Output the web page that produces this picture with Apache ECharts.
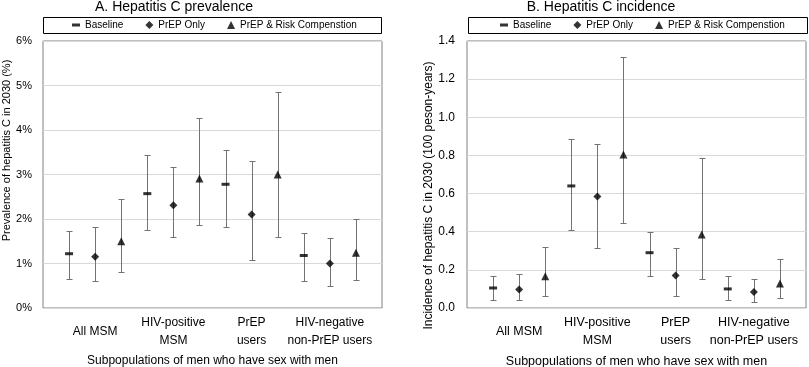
<!DOCTYPE html>
<html><head><meta charset="utf-8">
<script src="https://cdn.jsdelivr.net/npm/echarts@6/dist/echarts.min.js"></script>
<style>html,body{margin:0;padding:0;background:#fff}#c{width:809px;height:367px}</style>
</head><body><div id="c"></div>
<script>
// ---- data ----
const groups = ['All MSM', 'HIV-positive\nMSM', 'PrEP\nusers', 'HIV-negative\nnon-PrEP users'];
const seriesNames = ['Baseline', 'PrEP Only', 'PrEP & Risk Compenstion'];

// Panel A: prevalence (%)
const prevBaseline   = [1.22, 2.57, 2.78, 1.18];
const prevBaselineLo = [0.66, 1.76, 1.81, 0.60];
const prevBaselineHi = [1.72, 3.43, 3.54, 1.69];
const prevPrepOnly   = [1.15, 2.31, 2.10, 1.00];
const prevPrepOnlyLo = [0.60, 1.60, 1.08, 0.49];
const prevPrepOnlyHi = [1.82, 3.17, 3.31, 1.57];
const prevRisk       = [1.50, 2.91, 3.00, 1.24];
const prevRiskLo     = [0.80, 1.87, 1.60, 0.62];
const prevRiskHi     = [2.44, 4.28, 4.86, 2.01];
const prevTicks = ['0%', '1%', '2%', '3%', '4%', '5%', '6%'];

// Panel B: incidence (per 100 person-years)
const incBaseline   = [0.105, 0.64, 0.29, 0.10];
const incBaselineLo = [0.04, 0.41, 0.17, 0.04];
const incBaselineHi = [0.17, 0.886, 0.397, 0.17];
const incPrepOnly   = [0.097, 0.585, 0.17, 0.084];
const incPrepOnlyLo = [0.04, 0.317, 0.065, 0.03];
const incPrepOnlyHi = [0.177, 0.861, 0.317, 0.154];
const incRisk       = [0.166, 0.805, 0.385, 0.128];
const incRiskLo     = [0.065, 0.448, 0.154, 0.055];
const incRiskHi     = [0.32, 1.314, 0.786, 0.257];
const incTicks = ['0.0', '0.2', '0.4', '0.6', '0.8', '1.0', '1.2', '1.4'];

// ---- chart ----
const FONT = "'Liberation Sans', Arial, sans-serif";
const chart = echarts.init(document.getElementById('c'), null, {renderer: 'canvas'});

const panels = [
  {vals: [prevBaseline, prevPrepOnly, prevRisk], lo: [prevBaselineLo, prevPrepOnlyLo, prevRiskLo],
   hi: [prevBaselineHi, prevPrepOnlyHi, prevRiskHi], ticks: prevTicks},
  {vals: [incBaseline, incPrepOnly, incRisk], lo: [incBaselineLo, incPrepOnlyLo, incRiskLo],
   hi: [incBaselineHi, incPrepOnlyHi, incRiskHi], ticks: incTicks}
];
const pos = (g, s) => g * 3 + s + 1;
const labelPos = groups.map((_, g) => g * 3 + 2);
const symbols = [['rect', [8, 3]], ['diamond', [8, 8]], ['triangle', [8, 8]]];
const legendIcons = ['path://M0,0M8,8M0,2.5H8V5.5H0Z', 'diamond', 'triangle'];

function errRender(params, api) {
  const x = api.value(0), lo = api.value(1), hi = api.value(2);
  const a = api.coord([x, lo]), b = api.coord([x, hi]);
  const cx = Math.round(a[0]) + 0.5, y1 = Math.round(a[1]) + 0.5, y2 = Math.round(b[1]) + 0.5;
  const st = {stroke: '#737373', lineWidth: 1};
  return {type: 'group', children: [
    {type: 'line', shape: {x1: cx, y1: y1, x2: cx, y2: y2}, style: st},
    {type: 'line', shape: {x1: cx - 3, y1: y1, x2: cx + 3, y2: y1}, style: st},
    {type: 'line', shape: {x1: cx - 3, y1: y2, x2: cx + 3, y2: y2}, style: st}
  ]};
}

const series = [];
panels.forEach((p, pi) => {
  const errData = [];
  for (let s = 0; s < 3; s++) for (let g = 0; g < groups.length; g++) errData.push([pos(g, s), p.lo[s][g], p.hi[s][g]]);
  series.push({type: 'custom', name: 'err' + pi, xAxisIndex: pi, yAxisIndex: pi, z: 1,
    renderItem: errRender, encode: {x: 0, y: [1, 2]}, data: errData, silent: true});
  for (let s = 0; s < 3; s++) {
    series.push({type: 'scatter', name: seriesNames[s], xAxisIndex: pi, yAxisIndex: pi, z: 3,
      symbol: symbols[s][0], symbolSize: symbols[s][1], itemStyle: {color: '#000'},
      data: p.vals[s].map((v, g) => [pos(g, s), v])});
  }
});

const grids = [
  {left: 43, top: 41, width: 339, height: 267},
  {left: 467, top: 41, width: 339, height: 267}
];
const names = ['Prevalence of hepatitis C in 2030 (%)', 'Incidence of hepatitis C in 2030 (100 peson-years)'];

const xAxes = grids.map((gr, i) => ({
  type: 'value', gridIndex: i, min: 0, max: groups.length * 3 + 1,
  axisLine: {show: false}, axisTick: {show: false}, splitLine: {show: false},
  name: 'Subpopulations of men who have sex with men', nameLocation: 'middle', nameGap: 45,
  nameTextStyle: {fontFamily: FONT, fontSize: i ? 12.5 : 12, color: '#000'},
  axisLabel: {customValues: labelPos, margin: 6, fontFamily: FONT, fontSize: i ? 12.5 : 12, color: '#000', lineHeight: 18,
    formatter: v => { const t = groups[labelPos.indexOf(v)] || ''; return t.indexOf('\n') < 0 ? '{one|' + t + '}' : t; },
    rich: {one: {fontFamily: FONT, fontSize: i ? 12.5 : 12, color: '#000', lineHeight: 36}}}
}));
const yAxes = [
  {type: 'value', gridIndex: 0, min: 0, max: 6, interval: 1,
   axisLine: {show: false}, axisTick: {show: false},
   splitLine: {lineStyle: {color: '#d9d9d9'}},
   axisLabel: {margin: 11, fontFamily: FONT, fontSize: 11, color: '#000', formatter: v => prevTicks[Math.round(v)]},
   name: names[0], nameLocation: 'middle', nameGap: 26,
   nameTextStyle: {fontFamily: FONT, fontSize: 11, color: '#000', padding: [0, 0, 0, 48]}},
  {type: 'value', gridIndex: 1, min: 0, max: 1.4, interval: 0.2,
   axisLine: {show: false}, axisTick: {show: false},
   splitLine: {lineStyle: {color: '#d9d9d9'}},
   axisLabel: {margin: 12, fontFamily: FONT, fontSize: 12, color: '#000', formatter: v => incTicks[Math.round(v / 0.2)]},
   name: names[1], nameLocation: 'middle', nameGap: 31,
   nameTextStyle: {fontFamily: FONT, fontSize: 12, color: '#000', padding: [0, 42, 0, 0]}}
];

const legendData = seriesNames.map((n, i) => ({name: n, icon: legendIcons[i]}));
const legendBase = {top: 20, itemGap: 22, itemWidth: 8, itemHeight: 8, padding: 0, selectedMode: false,
  textStyle: {fontFamily: FONT, fontSize: 10, color: '#000'}, data: legendData};

chart.setOption({
  animation: false,
  backgroundColor: '#fff',
  title: [
    {text: 'A. Hepatitis C prevalence', left: 174, top: 0, textAlign: 'center', padding: 0,
     textStyle: {fontFamily: FONT, fontSize: 14, fontWeight: 'normal', color: '#000'}},
    {text: 'B. Hepatitis C incidence', left: 601, top: 0, textAlign: 'center', padding: 0,
     textStyle: {fontFamily: FONT, fontSize: 14, fontWeight: 'normal', color: '#000'}}
  ],
  legend: [Object.assign({left: 72}, legendBase), Object.assign({left: 500}, legendBase)],
  graphic: [
    {type: 'rect', shape: {x: 43.5, y: 17.5, width: 338, height: 16}, style: {fill: 'none', stroke: '#000', lineWidth: 1}, silent: true},
    {type: 'rect', shape: {x: 468.5, y: 17.5, width: 339, height: 16}, style: {fill: 'none', stroke: '#000', lineWidth: 1}, silent: true}
  ],
  grid: grids.map(g => Object.assign({show: true, borderColor: '#808080', borderWidth: 1, backgroundColor: 'transparent',
    containLabel: false, outerBoundsMode: 'none'}, g)),
  xAxis: xAxes,
  yAxis: yAxes,
  series: series
});
</script></body></html>
